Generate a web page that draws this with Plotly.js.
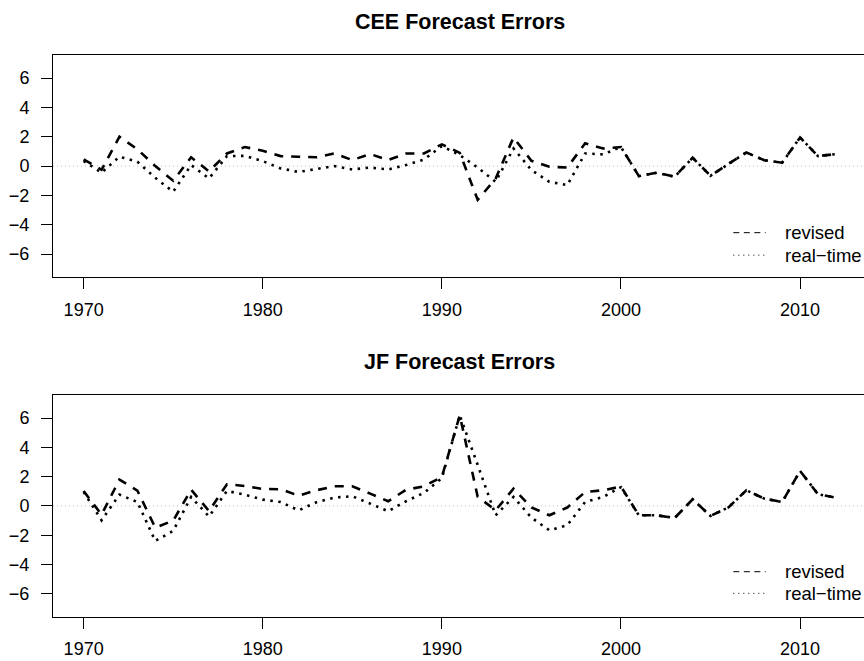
<!DOCTYPE html>
<html>
<head>
<meta charset="utf-8">
<script src="https://cdn.plot.ly/plotly-3.0.1.min.js"></script>
<style>
html, body { margin: 0; padding: 0; overflow: hidden; background: #fff; }
#chart { width: 866px; height: 661px; }
</style>
</head>
<body>
<div id="chart"></div>
<script>
const years = [1970,1971,1972,1973,1974,1975,1976,1977,1978,1979,
               1980,1981,1982,1983,1984,1985,1986,1987,1988,1989,
               1990,1991,1992,1993,1994,1995,1996,1997,1998,1999,
               2000,2001,2002,2003,2004,2005,2006,2007,2008,2009,
               2010,2011,2012];

const ceeRevised = [0.45,-0.25,2.0,1.15,0.0,-1.0,0.6,-0.36,0.86,1.3,
                    1.05,0.68,0.64,0.6,0.86,0.41,0.82,0.41,0.86,0.86,
                    1.48,0.9,-2.3,-0.86,1.95,0.36,-0.05,-0.1,1.55,1.2,
                    1.3,-0.68,-0.45,-0.73,0.57,-0.66,0.15,0.93,0.4,0.23,
                    1.95,0.68,0.82];

const ceeRealTime = [0.35,-0.45,0.64,0.3,-0.8,-1.75,0.07,-0.84,0.68,0.7,
                     0.34,-0.16,-0.4,-0.2,0.0,-0.23,-0.1,-0.23,0.07,0.45,
                     1.36,0.75,-0.1,-1.07,1.2,-0.27,-1.07,-1.3,0.86,0.8,
                     1.3,-0.68,-0.45,-0.73,0.57,-0.66,0.15,0.93,0.4,0.23,
                     1.95,0.68,0.82];

const jfRevised = [1.02,-0.6,1.8,1.05,-1.48,-1.0,1.11,-0.35,1.48,1.36,
                   1.16,1.14,0.7,1.07,1.34,1.34,0.84,0.32,1.1,1.34,
                   1.98,6.18,0.63,-0.3,1.18,-0.1,-0.64,-0.11,0.95,1.07,
                   1.32,-0.64,-0.64,-0.82,0.45,-0.68,-0.1,1.07,0.5,0.27,
                   2.39,0.8,0.57];

const jfRealTime = [0.95,-0.98,0.77,0.27,-2.39,-1.7,0.61,-0.72,1.02,0.77,
                    0.43,0.27,-0.3,0.25,0.57,0.66,0.16,-0.36,0.32,0.89,
                    1.9,6.18,2.8,-0.64,0.61,-0.8,-1.66,-1.32,0.27,0.61,
                    1.28,-0.64,-0.64,-0.82,0.45,-0.68,-0.1,1.07,0.5,0.27,
                    2.39,0.8,0.57];

const xTicks = [1970, 1980, 1990, 2000, 2010];
const yTicks = [-6, -4, -2, 0, 2, 4, 6];
const titles = ["CEE Forecast Errors", "JF Forecast Errors"];
const legendLabels = ["revised", "real\u2212time"];

const FONT = "'Liberation Sans', Arial, Helvetica, sans-serif";
const dashedStyle = {color: "#000", width: 2.6, dash: "9px,8px"};
const dottedStyle = {color: "#000", width: 2.6, dash: "2.5px,5.5px"};

const traces = [
  {x: years, y: ceeRevised, xaxis: "x", yaxis: "y", mode: "lines", line: dashedStyle, hoverinfo: "skip"},
  {x: years, y: ceeRealTime, xaxis: "x", yaxis: "y", mode: "lines", line: dottedStyle, hoverinfo: "skip"},
  {x: years, y: jfRevised, xaxis: "x2", yaxis: "y2", mode: "lines", line: dashedStyle, hoverinfo: "skip"},
  {x: years, y: jfRealTime, xaxis: "x2", yaxis: "y2", mode: "lines", line: dottedStyle, hoverinfo: "skip"}
];

function xAxis(domainAnchor) {
  return {
    anchor: domainAnchor,
    range: [1968.29, 2013.68],
    tickvals: xTicks,
    ticktext: xTicks.map(String),
    ticks: "outside", ticklen: 11, tickwidth: 1, tickcolor: "#000",
    showline: true, linecolor: "#000", linewidth: 1, mirror: true,
    showgrid: false, zeroline: false,
    ticklabelstandoff: 5,
    tickfont: {family: FONT, size: 18, color: "#000"}
  };
}
function yAxis(domain, anchor) {
  return {
    anchor: anchor,
    domain: domain,
    range: [-7.56, 7.57],
    tickvals: yTicks,
    ticktext: yTicks.map(v => v < 0 ? "\u2212" + Math.abs(v) : String(v)),
    ticks: "outside", ticklen: 11, tickwidth: 1, tickcolor: "#000",
    showline: true, linecolor: "#000", linewidth: 1, mirror: true,
    showgrid: false, zeroline: false,
    ticklabelstandoff: 8,
    tickfont: {family: FONT, size: 18, color: "#000"}
  };
}

const zeroLine = (yref) => ({
  type: "line", xref: (yref === "y" ? "x" : "x2") + " domain", x0: 0, x1: 1,
  yref: yref, y0: 0, y1: 0, layer: "below",
  line: {color: "#bdbdbd", width: 1, dash: "1px,3px"}
});

const legendRows = [
  {y: [0.648, 0.614]},
  {y: [0.1351, 0.1024]}
];
const shapes = [zeroLine("y"), zeroLine("y2")];
const annotations = [
  {text: "<b>" + titles[0] + "</b>", xref: "paper", yref: "paper", x: 0.5, y: 0.9672,
   xanchor: "center", yanchor: "middle", showarrow: false, font: {family: FONT, size: 21.5, color: "#000"}},
  {text: "<b>" + titles[1] + "</b>", xref: "paper", yref: "paper", x: 0.5, y: 0.4528,
   xanchor: "center", yanchor: "middle", showarrow: false, font: {family: FONT, size: 21.5, color: "#000"}}
];
legendRows.forEach(row => {
  shapes.push({type: "line", xref: "paper", yref: "paper", x0: 0.8368, x1: 0.8766, y0: row.y[0], y1: row.y[0],
               line: {color: "#000", width: 1, dash: "6px,4.5px"}});
  shapes.push({type: "line", xref: "paper", yref: "paper", x0: 0.8368, x1: 0.8766, y0: row.y[1], y1: row.y[1],
               line: {color: "#000", width: 1, dash: "1px,4px"}});
  legendLabels.forEach((lab, k) => {
    annotations.push({text: lab, xref: "paper", yref: "paper", x: 0.8985, y: row.y[k],
                      xanchor: "left", yanchor: "middle", showarrow: false,
                      font: {family: FONT, size: 18.5, color: "#000"}});
  });
});

const layout = {
  width: 866, height: 661,
  margin: {l: 53, r: 0, t: 0, b: 0, pad: 0},
  paper_bgcolor: "#fff", plot_bgcolor: "#fff",
  showlegend: false,
  xaxis: xAxis("y"),
  yaxis: yAxis([0.5809, 0.9168], "x"),
  xaxis2: xAxis("y2"),
  yaxis2: yAxis([0.0670, 0.4024], "x2"),
  shapes: shapes,
  annotations: annotations
};

Plotly.newPlot("chart", traces, layout, {staticPlot: true, displayModeBar: false});
</script>
</body>
</html>
